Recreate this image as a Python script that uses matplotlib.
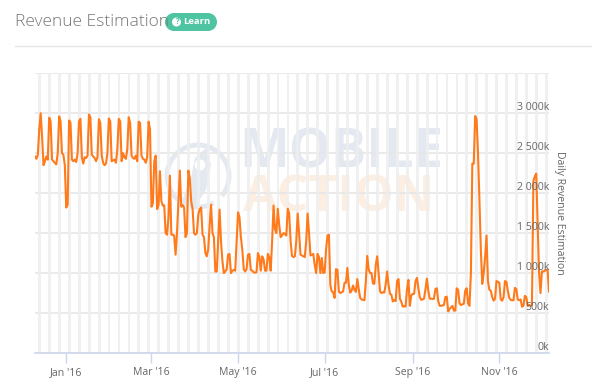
import numpy as np
import pandas as pd
from matplotlib import pyplot as plt
from matplotlib import patches

START_DATE = "2015-12-10"

# daily revenue in thousands, one row per week
revenue = [
    2460, 2430, 2480, 2800, 3000, 2700, 2350,
    2400, 2460, 2420, 2945, 2900, 2420, 2400,
    2380, 2360, 2500, 2960, 2900, 2500, 2480,
    2350, 1820, 1860, 2910, 2880, 2420, 2400,
    2420, 2390, 2500, 2900, 2930, 2450, 2370,
    2450, 2440, 2470, 2985, 2950, 2480, 2460,
    2440, 2400, 2450, 2925, 2880, 2470, 2380,
    2350, 2370, 2500, 2935, 2900, 2400, 2410,
    2420, 2380, 2550, 2930, 2900, 2400, 2500,
    2450, 2430, 2550, 2950, 2880, 2470, 2440,
    2430, 2470, 2400, 2895, 2880, 2470, 2430,
    2420, 2380, 2450, 2895, 2800, 1830, 1870,
    2400, 2470, 1800, 1850, 2275, 1900, 1845,
    1850, 1500, 1480, 1700, 2220, 1480, 1480,
    1470, 1230, 1500, 1900, 2283, 1830, 1850,
    1820, 1450, 1500, 2283, 2190, 1900, 1800,
    1500, 1480, 1500, 1730, 1800, 1820, 1480,
    1450, 1250, 1210, 1300, 1600, 1855, 1500,
    1450, 1020, 1020, 1400, 1795, 1400, 1150,
    1000, 1020, 1050, 1230, 1240, 1000, 1030,
    1040, 1030, 1400, 1760, 1700, 1450, 1290,
    1050, 1020, 1050, 1230, 1240, 1040, 1030,
    1010, 1005, 1010, 1250, 1200, 1030, 1210,
    1170, 1030, 1030, 1240, 1200, 1030, 1400,
    1845, 1550, 1500, 1805, 1600, 1450, 1470,
    1500, 1490, 1470, 1805, 1750, 1400, 1215,
    1200, 1210, 1400, 1745, 1500, 1230, 1220,
    1210, 1200, 1400, 1745, 1500, 1220, 1230,
    1240, 1100, 1000, 1240, 1200, 1000, 1190,
    1000, 1010, 1300, 1470, 1480, 850, 770,
    760, 690, 1050, 1040, 770, 750, 760,
    770, 880, 880, 1065, 850, 755, 780,
    845, 790, 765, 925, 800, 690, 670,
    665, 660, 900, 1215, 1050, 1000, 1000,
    870, 865, 1100, 1210, 1000, 770, 750,
    760, 755, 860, 1020, 850, 740, 730,
    645, 660, 650, 900, 925, 680, 640,
    580, 585, 580, 800, 915, 590, 720,
    740, 740, 900, 940, 810, 700, 665,
    670, 680, 800, 930, 780, 680, 680,
    675, 680, 800, 810, 650, 590, 590,
    595, 600, 700, 705, 520, 550, 570,
    590, 530, 530, 810, 790, 620, 600,
    610, 615, 780, 810, 620, 590, 1000,
    2370, 2370, 2965, 2925, 2500, 1920, 1290,
    865, 1000, 1200, 1470, 900, 790, 780,
    700, 655, 680, 900, 890, 880, 670,
    655, 700, 900, 890, 780, 690, 665,
    660, 660, 815, 800, 670, 660, 670,
    580, 590, 715, 700, 590, 600, 590,
    600, 2150, 2210, 2245, 1600, 1000, 750,
    1020, 1020, 1030, 1040, 1040, 770,
]

y_ticks = [0, 500, 1000, 1500, 2000, 2500, 3000]
y_labels = ["0k", "500k", "1 000k", "1 500k", "2 000k", "2 500k", "3 000k"]
x_ticks = ["2016-01-01", "2016-03-01", "2016-05-01", "2016-07-01", "2016-09-01", "2016-11-01"]
x_labels = ["Jan '16", "Mar '16", "May '16", "Jul '16", "Sep '16", "Nov '16"]

W, H = 604, 385
FONT = "Open Sans"
GREY = "#666666"

plt.rcParams['font.family'] = [FONT, 'DejaVu Sans']

dates = pd.date_range(START_DATE, periods=len(revenue), freq="D")

fig = plt.figure(figsize=(W / 100, H / 100), dpi=100)

# page furniture in pixel coordinates
bg = fig.add_axes([0, 0, 1, 1], zorder=0)
bg.set_xlim(0, W)
bg.set_ylim(H, 0)
bg.axis('off')

bg.text(15, 22, "Revenue Estimation", fontsize=12.5, color="#777777",
        va='center', ha='left', fontweight='light')
bg.add_patch(patches.FancyBboxPatch((174, 13), 34, 18, boxstyle="round,pad=0,rounding_size=9",
                                    mutation_aspect=1, fc="#4fc4a2", ec="#4fc4a2", lw=0))
bg.add_patch(patches.Rectangle((174, 13), 34, 18, fc="#4fc4a2", ec="none"))
bg.add_patch(patches.Circle((174, 22), 9, fc="#4fc4a2", ec="none"))
bg.add_patch(patches.Circle((208, 22), 9, fc="#4fc4a2", ec="none"))
bg.add_patch(patches.Circle((176.5, 22), 4.5, fc="white", ec="none"))
bg.text(176.5, 22, "?", fontsize=5.5, color="#4fc4a2", ha='center', va='center', fontweight='bold')
bg.text(183, 22, "Learn", fontsize=6.8, color="white", ha='left', va='center', fontweight='bold')
bg.plot([15, 591], [46, 46], color="#e6e6e6", lw=1)

# watermark
bg.text(341, 154, "MOBILE", fontsize=38, color="#e4e9f1", ha='center', va='center', fontweight='bold')
bg.text(339, 198, "ACTION", fontsize=36, color="#fdeee2", ha='center', va='center', fontweight='bold')
bg.add_patch(patches.Arc((198, 176), 62, 62, theta1=-300, theta2=40, color="#e4e9f1", lw=3.5))
bg.add_patch(patches.Polygon([(207, 147), (211, 165), (206, 190), (196, 205), (180, 205), (191, 178), (195, 158)],
                             closed=True, fc="#e4e9f1", ec="none"))
bg.add_patch(patches.Circle((200, 165), 5.5, fc="white", ec="none"))

left, right, top, bottom = 35, 549, 73.3, 353
ax = fig.add_axes([left / W, 1 - bottom / H, (right - left) / W, (bottom - top) / H], zorder=1)
ax.patch.set_alpha(0)
ax.set_xlim(dates[0], dates[-1])
ax.set_ylim(0, 3500)

# weekend bands
for d in dates:
    if d.dayofweek == 6:
        ax.axvspan(d - pd.Timedelta(hours=20), d + pd.Timedelta(hours=28), color="#eeeeee", alpha=0.85, lw=0, zorder=1)

ax.yaxis.grid(True, color="#e6e6e6", lw=1.2, zorder=2)
ax.set_yticks(y_ticks + [3500])
ax.set_yticklabels([])
ax.tick_params(axis='y', length=0)
ax.set_xticks(pd.to_datetime(x_ticks))
ax.set_xticklabels(x_labels, fontsize=7.6, color=GREY)
ax.tick_params(axis='x', length=7, width=1, color="#ccd6eb", pad=3)
ax.set_axisbelow(True)

for name in ['top', 'left', 'right']:
    ax.spines[name].set_visible(False)
ax.spines['bottom'].set_color("#ccd6eb")
ax.spines['bottom'].set_linewidth(1.2)

ax.plot(dates, revenue, color="#ff7a1a", lw=1.5, zorder=3, solid_joinstyle='round')

for val, lab in zip(y_ticks, y_labels):
    ax.annotate(lab, (1, val), xycoords=('axes fraction', 'data'), xytext=(0, 4.3),
                textcoords='offset points', ha='right', va='center', fontsize=7.6, color=GREY)

bg.text(560, 213, "Daily Revenue Estimation", rotation=270, fontsize=7.6, color=GREY,
        ha='center', va='center')

fig.savefig("out.png", dpi=100)
